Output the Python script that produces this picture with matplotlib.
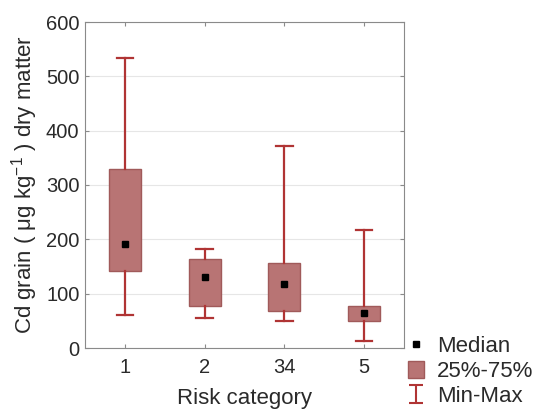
import matplotlib
matplotlib.use("Agg")
import matplotlib.pyplot as plt
from matplotlib.patches import Patch
from matplotlib.lines import Line2D
from matplotlib.path import Path

categories = ["1", "2", "34", "5"]
q1 = [142, 77, 68, 50]
q3 = [329, 164, 157, 78]
medians = [191, 131, 118, 64]
mins = [60, 55, 49, 12]
maxs = [533, 183, 372, 218]

plt.rcParams['font.family'] = ['Liberation Sans', 'DejaVu Sans']
fs_tick = 14.5
fs_lab = 16
box_face = "#b87474"
box_edge = "#a05a5a"
whisk = "#b03434"
txt = '#2a2a2a'

fig = plt.figure(figsize=(5.4, 4.09), dpi=100)
ax = fig.add_axes([85/540, 1-348/409, (404-85)/540, (348-22)/409])

stats = []
for i, c in enumerate(categories):
    stats.append(dict(label=c, med=medians[i], q1=q1[i], q3=q3[i],
                      whislo=mins[i], whishi=maxs[i], fliers=[]))
pos = list(range(1, len(categories) + 1))
ax.bxp(stats, positions=pos, widths=0.4, patch_artist=True, showfliers=False,
       boxprops=dict(facecolor=box_face, edgecolor=box_edge, linewidth=1),
       whiskerprops=dict(color=whisk, linewidth=1.6),
       capprops=dict(color=whisk, linewidth=1.6),
       medianprops=dict(linewidth=0),
       capwidths=0.21, zorder=3)
ax.plot(pos, medians, linestyle='none', marker='s', color='black', markersize=4.5, zorder=4)

ax.set_xlim(0.5, 4.5)
ax.set_ylim(0, 600)
ax.set_yticks(range(0, 601, 100))
ax.set_xticks(pos)
ax.set_xticklabels(categories)
ax.yaxis.grid(True, color='#e6e6e6', linewidth=0.8)
ax.set_axisbelow(True)
for s in ax.spines.values():
    s.set_color('#8a8a8a')
ax.tick_params(axis='both', direction='in', length=3, color='#8a8a8a',
               labelsize=fs_tick, labelcolor=txt, top=True, right=True)
ax.tick_params(axis='x', pad=7)
ax.tick_params(axis='y', pad=4)
ax.set_ylabel(r"Cd grain ( $\mathregular{\mu}$g kg$^{\mathregular{-1}}$ ) dry matter",
              fontsize=fs_lab, color=txt, labelpad=4)
ax.set_xlabel("Risk category", fontsize=fs_lab, color=txt, labelpad=8)

ipath = Path([(-0.75, 1), (0.75, 1), (0, 1), (0, -1), (-0.75, -1), (0.75, -1)],
             [Path.MOVETO, Path.LINETO, Path.MOVETO, Path.LINETO, Path.MOVETO, Path.LINETO])
handles = [
    Line2D([], [], linestyle='none', marker='s', color='black', markersize=4),
    Patch(facecolor=box_face, edgecolor=box_edge),
    Line2D([], [], linestyle='none', marker=ipath, markersize=13, markeredgecolor=whisk,
           markerfacecolor='none', markeredgewidth=1.5),
]
labels = ["Median", "25%-75%", "Min-Max"]
fig.legend(handles, labels, loc='lower left', bbox_to_anchor=(406/540, 0.0),
           frameon=False, fontsize=fs_lab, handlelength=0.7, handleheight=0.8,
           handletextpad=0.6, labelspacing=0.17, borderaxespad=0, borderpad=0.1,
           labelcolor=txt)

fig.savefig("out.png", dpi=100)
